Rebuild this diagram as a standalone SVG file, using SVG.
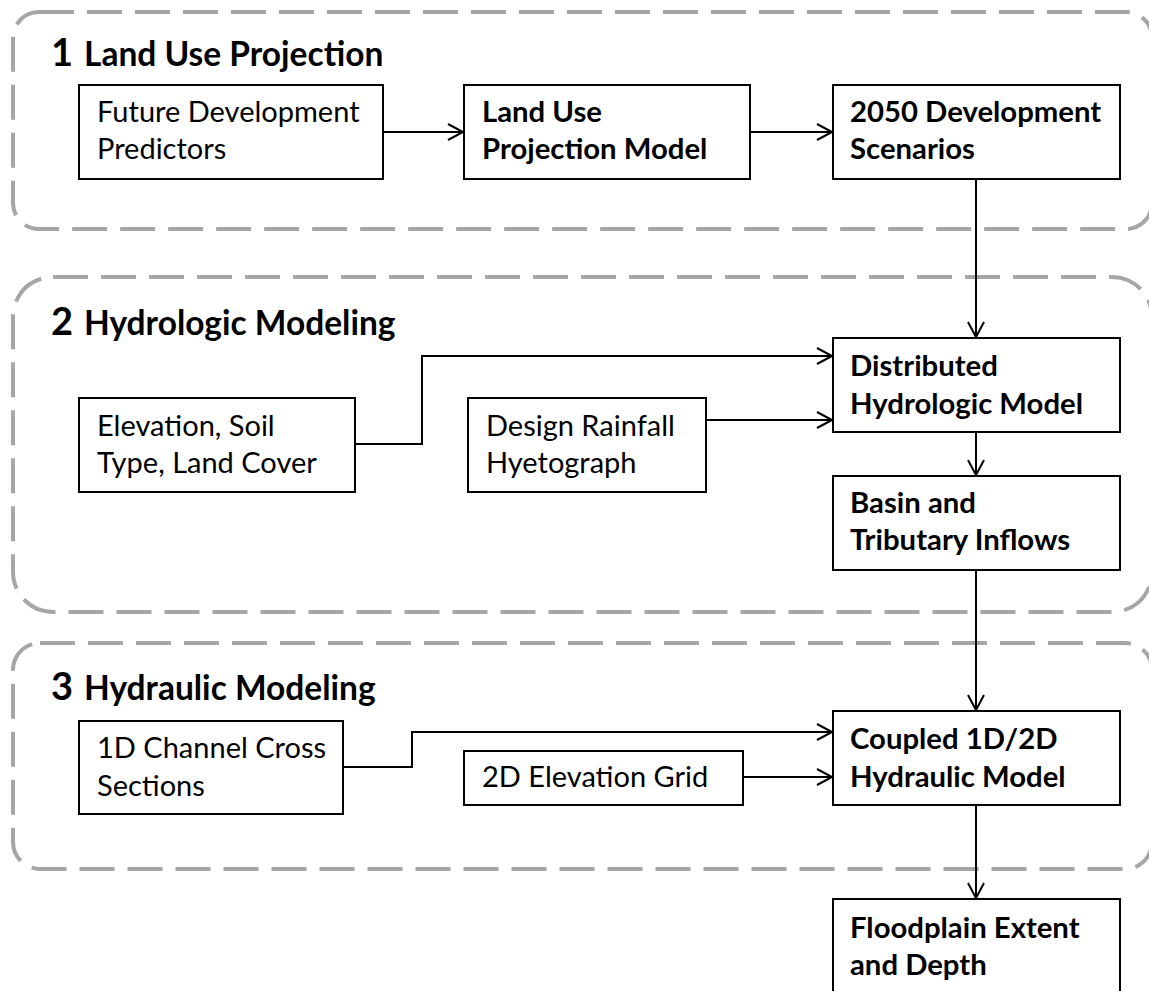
<svg xmlns="http://www.w3.org/2000/svg" width="1149" height="991" viewBox="0 0 1149 991">
<style>
.panel{fill:none;stroke:#a6a6a6;stroke-width:4;stroke-dasharray:35 13}
.box{fill:#fff;stroke:#000;stroke-width:2}
.con{fill:none;stroke:#000;stroke-width:2;marker-end:url(#arr)}
.t{font-family:Lato,"Liberation Sans",sans-serif;font-size:29px;fill:#000}
.b{font-family:Lato,"Liberation Sans",sans-serif;font-size:29.3px;font-weight:bold;fill:#000}
.num{font-family:Lato,"Liberation Sans",sans-serif;font-size:38px;font-weight:bold;fill:#000}
.ttl{font-family:Lato,"Liberation Sans",sans-serif;font-size:33.5px;font-weight:bold;fill:#000}
</style>
<defs>
<marker id="arr" markerUnits="userSpaceOnUse" markerWidth="20" markerHeight="20" viewBox="-17 -10 20 20" refX="0" refY="0" orient="auto">
<path d="M-15,-8 L0,0 L-15,8" fill="none" stroke="#000" stroke-width="2"/>
</marker>
</defs>
<g id="panels">
<g id="panel1"><rect class="panel" x="13" y="12" width="1139" height="217" rx="26"/><text class="num" x="51" y="66">1</text><text class="ttl" x="84" y="66">Land Use Projection</text></g>
<g id="panel2"><rect class="panel" x="13" y="277" width="1139" height="335" rx="40"/><text class="num" x="51" y="335">2</text><text class="ttl" x="84" y="335">Hydrologic Modeling</text></g>
<g id="panel3"><rect class="panel" x="13" y="643" width="1139" height="226" rx="27"/><text class="num" x="51" y="700">3</text><text class="ttl" x="84" y="700">Hydraulic Modeling</text></g>
</g>
<g id="connectors">
<path class="con" d="M383,132 H463"/>
<path class="con" d="M750,132 H832"/>
<path class="con" d="M976,179 V337"/>
<path class="con" d="M355,444 H422 V356 H832"/>
<path class="con" d="M706,420 H832"/>
<path class="con" d="M976,432 V475"/>
<path class="con" d="M976,570 V710"/>
<path class="con" d="M343,767 H412 V732 H832"/>
<path class="con" d="M743,777 H832"/>
<path class="con" d="M976,805 V898"/>
</g>
<g id="futureDev"><rect class="box" x="79" y="85" width="304" height="94"/><text class="t" x="97" y="122">Future Development</text><text class="t" x="97" y="159">Predictors</text></g>
<g id="luModel"><rect class="box" x="464" y="85" width="286" height="94"/><text class="b" x="482" y="122">Land Use</text><text class="b" x="482" y="159">Projection Model</text></g>
<g id="scenarios"><rect class="box" x="833" y="85" width="287" height="94"/><text class="b" x="850" y="122">2050 Development</text><text class="b" x="850" y="159">Scenarios</text></g>
<g id="elevation"><rect class="box" x="79" y="398" width="276" height="94"/><text class="t" x="97" y="436">Elevation, Soil</text><text class="t" x="97" y="473">Type, Land Cover</text></g>
<g id="rainfall"><rect class="box" x="468" y="398" width="238" height="94"/><text class="t" x="486" y="436">Design Rainfall</text><text class="t" x="486" y="473">Hyetograph</text></g>
<g id="hydroModel"><rect class="box" x="833" y="338" width="287" height="94"/><text class="b" x="850" y="376">Distributed</text><text class="b" x="850" y="414">Hydrologic Model</text></g>
<g id="inflows"><rect class="box" x="833" y="476" width="287" height="94"/><text class="b" x="850" y="513">Basin and</text><text class="b" x="850" y="550">Tributary Inflows</text></g>
<g id="crossSections"><rect class="box" x="79" y="721" width="264" height="93"/><text class="t" x="97" y="758">1D Channel Cross</text><text class="t" x="97" y="796">Sections</text></g>
<g id="elevGrid"><rect class="box" x="464" y="751" width="279" height="54"/><text class="t" x="482" y="787">2D Elevation Grid</text></g>
<g id="hydraulicModel"><rect class="box" x="833" y="711" width="287" height="94"/><text class="b" x="850" y="749">Coupled 1D/2D</text><text class="b" x="850" y="787">Hydraulic Model</text></g>
<g id="floodplain"><rect class="box" x="833" y="899" width="287" height="110"/><text class="b" x="850" y="938">Floodplain Extent</text><text class="b" x="850" y="975">and Depth</text></g>
</svg>
